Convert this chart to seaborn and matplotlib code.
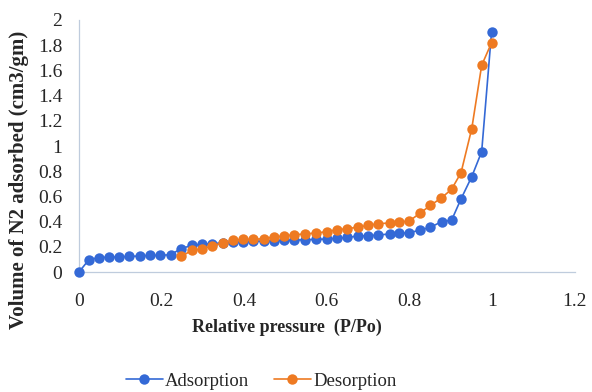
import numpy as np
import pandas as pd
import seaborn as sns
import matplotlib.pyplot as plt

# Adsorption branch
ads_p = [0.0, 0.024, 0.048, 0.073, 0.097, 0.122, 0.147, 0.172, 0.197, 0.222,
         0.247, 0.273, 0.298, 0.323, 0.348, 0.372, 0.397, 0.422, 0.447, 0.472,
         0.497, 0.521, 0.547, 0.574, 0.600, 0.625, 0.650, 0.676, 0.700, 0.725,
         0.752, 0.776, 0.800, 0.826, 0.851, 0.878, 0.902, 0.925, 0.951, 0.975,
         0.999]
ads_v = [0.0, 0.098, 0.114, 0.119, 0.119, 0.124, 0.127, 0.132, 0.132, 0.138,
         0.185, 0.212, 0.220, 0.225, 0.232, 0.237, 0.240, 0.243, 0.246, 0.249,
         0.251, 0.253, 0.256, 0.259, 0.262, 0.267, 0.275, 0.286, 0.288, 0.294,
         0.302, 0.307, 0.312, 0.333, 0.355, 0.400, 0.410, 0.580, 0.757, 0.955,
         1.907]

# Desorption branch
des_p = [0.248, 0.273, 0.298, 0.323, 0.348, 0.372, 0.396, 0.422, 0.447, 0.472,
         0.497, 0.521, 0.547, 0.574, 0.600, 0.625, 0.650, 0.676, 0.700, 0.725,
         0.752, 0.776, 0.800, 0.826, 0.851, 0.877, 0.902, 0.925, 0.951, 0.975,
         0.999]
des_v = [0.124, 0.172, 0.185, 0.206, 0.233, 0.251, 0.259, 0.259, 0.265, 0.278,
         0.286, 0.296, 0.302, 0.310, 0.320, 0.336, 0.344, 0.357, 0.370, 0.384,
         0.389, 0.397, 0.405, 0.468, 0.529, 0.587, 0.656, 0.788, 1.138, 1.640,
         1.820]

blue = "#3469D6"
orange = "#EE7A22"

sns.set_style("white")
plt.rcParams['font.family'] = ['Liberation Serif', 'DejaVu Serif']

fig = plt.figure(figsize=(5.92, 3.92), dpi=100)
ax = fig.add_axes([0.1334, 0.306, 0.8372, 0.643])

sns.lineplot(x=ads_p, y=ads_v, ax=ax, color=blue, marker='o', markersize=7.5,
             markeredgewidth=0, linewidth=1.2, label='Adsorption', sort=False,
             clip_on=False, zorder=3)
sns.lineplot(x=des_p, y=des_v, ax=ax, color=orange, marker='o', markersize=7.5,
             markeredgewidth=0, linewidth=1.2, label='Desorption', sort=False,
             clip_on=False, zorder=4)

ax.set_xlim(0, 1.2)
ax.set_ylim(0, 2)
ax.set_xticks(np.arange(0, 1.21, 0.2))
ax.set_xticklabels(['0', '0.2', '0.4', '0.6', '0.8', '1', '1.2'])
ax.set_yticks(np.arange(0, 2.01, 0.2))
ax.set_yticklabels(['0', '0.2', '0.4', '0.6', '0.8', '1', '1.2', '1.4',
                    '1.6', '1.8', '2'])
ax.tick_params(axis='both', labelsize=14, length=0)
ax.tick_params(axis='x', pad=15)
ax.tick_params(axis='y', pad=12)

for s in ['top', 'right']:
    ax.spines[s].set_visible(False)
for s in ['left', 'bottom']:
    ax.spines[s].set_color('#BFCCDD')
    ax.spines[s].set_linewidth(0.9)
    ax.spines[s].set_zorder(1)

ax.set_xlabel('')
ax.set_ylabel('')
fig.text(287 / 592, 1 - 327 / 392, 'Relative pressure  (P/Po)',
         fontsize=13, fontweight='bold', ha='center', va='center')
fig.text(19 / 592, 1 - 180 / 392, 'Volume of N2 adsorbed (cm3/gm)',
         fontsize=15, fontweight='bold', ha='center', va='center',
         rotation=90)

handles, labels = ax.get_legend_handles_labels()
ax.get_legend().remove()
fig.legend(handles, labels, loc='center',
           bbox_to_anchor=(261 / 592, 1 - 381 / 392),
           ncol=2, frameon=False, fontsize=13.5, handlelength=2.0,
           handletextpad=0.1, columnspacing=1.3)

fig.savefig('out.png', dpi=100)
